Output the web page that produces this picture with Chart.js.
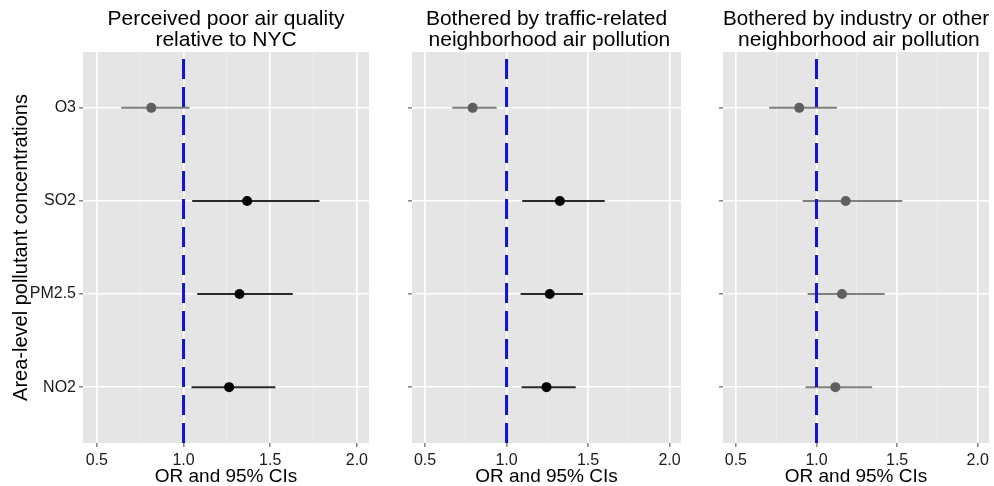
<!DOCTYPE html>
<html lang="en">
<head>
<meta charset="UTF-8" />
<title>Area-level pollutants and perceived air pollution</title>
<script src="https://cdn.jsdelivr.net/npm/chart.js"></script>
<style>
  body { margin: 0; background: #fff; width: 994px; height: 486px; position: relative; overflow: hidden; }
  .panel { position: absolute; top: 0; height: 486px; }
</style>
</head>
<body>
<div class="panel" style="left:0;width:374px"><canvas id="airChart"></canvas></div>
<div class="panel" style="left:378px;width:308px"><canvas id="trafficChart"></canvas></div>
<div class="panel" style="left:690px;width:304px"><canvas id="industryChart"></canvas></div>

<script>
// rows from bottom to top
const pollutants = ['NO2', 'PM2.5', 'SO2', 'O3'];
const xTicks = [0.5, 0.75, 1.0, 1.25, 1.5, 1.75, 2.0];

// Perceived poor air quality relative to NYC
const airOR = [1.263, 1.323, 1.367, 0.814];
const airLo = [1.046, 1.079, 1.050, 0.640];
const airHi = [1.530, 1.630, 1.784, 1.035];
const airDark = [true, true, true, false];

// Bothered by traffic-related neighborhood air pollution
const trafficOR = [1.245, 1.265, 1.327, 0.792];
const trafficLo = [1.092, 1.086, 1.096, 0.667];
const trafficHi = [1.424, 1.469, 1.602, 0.939];
const trafficDark = [true, true, true, false];

// Bothered by industry or other neighborhood air pollution
const industryOR = [1.117, 1.158, 1.181, 0.893];
const industryLo = [0.932, 0.945, 0.914, 0.706];
const industryHi = [1.345, 1.423, 1.532, 1.127];
const industryDark = [false, false, false, false];

Chart.defaults.font.family = "'Liberation Sans', Arial, sans-serif";

const panelBg = {
  id: 'panelBg',
  beforeDraw(chart) {
    const a = chart.chartArea;
    chart.ctx.save();
    chart.ctx.fillStyle = '#e5e5e5';
    chart.ctx.fillRect(a.left, a.top, a.right - a.left, a.bottom - a.top);
    chart.ctx.restore();
  }
};

const isMajor = v => Math.abs(v * 2 - Math.round(v * 2)) < 1e-6;

function forestPlot(id, title, or, lo, hi, dark, opts) {
  const datasets = [];
  // confidence intervals
  pollutants.forEach((p, i) => {
    datasets.push({
      data: [{ x: lo[i], y: i + 1 }, { x: hi[i], y: i + 1 }],
      showLine: true,
      borderColor: dark[i] ? '#2a2a2a' : '#7f7f7f',
      borderWidth: 2,
      pointRadius: 0,
      order: 2
    });
  });
  // reference line at OR = 1
  datasets.push({
    data: [{ x: 1, y: 0.4 }, { x: 1, y: 4.6 }],
    showLine: true,
    borderColor: '#1414cc',
    borderWidth: 3,
    borderDash: [20, 8],
    pointRadius: 0,
    order: 1
  });
  // point estimates
  datasets.push({
    data: or.map((v, i) => ({ x: v, y: i + 1 })),
    pointRadius: 5,
    pointBorderWidth: 0,
    pointBackgroundColor: dark.map(d => d ? '#000000' : '#5f5f5f'),
    order: 0
  });

  return new Chart(document.getElementById(id), {
    type: 'scatter',
    data: { datasets },
    plugins: [panelBg],
    options: {
      responsive: true,
      maintainAspectRatio: false,
      animation: false,
      layout: { padding: { right: opts.padRight, left: 0, top: 0, bottom: 0 } },
      plugins: {
        legend: { display: false },
        tooltip: { enabled: false },
        title: {
          display: true,
          text: title,
          fullSize: false,
          color: '#000',
          font: { size: 21, weight: 'normal', lineHeight: 1.0 },
          padding: { top: 9, bottom: 1 }
        }
      },
      scales: {
        x: {
          type: 'linear',
          min: 0.42,
          max: 2.07,
          bounds: 'data',
          afterBuildTicks: s => { s.ticks = xTicks.map(v => ({ value: v })); },
          afterFit: s => { s.height = 43; },
          border: { display: false },
          grid: {
            color: c => isMajor(c.tick.value) ? '#ffffff' : '#f0f0f0',
            lineWidth: c => isMajor(c.tick.value) ? 1.6 : 0.8,
            tickColor: c => isMajor(c.tick.value) ? '#8a8a8a' : 'rgba(0,0,0,0)',
            tickLength: 4
          },
          ticks: {
            autoSkip: false,
            maxRotation: 0,
            padding: 4,
            color: '#1a1a1a',
            font: { size: 16 },
            callback: v => isMajor(v) ? v.toFixed(1) : ''
          },
          title: {
            display: true,
            text: 'OR and 95% CIs',
            color: '#000',
            font: { size: 19, lineHeight: 1.0 },
            padding: { top: 0, bottom: 0 }
          }
        },
        y: {
          type: 'linear',
          min: 0.4,
          max: 4.6,
          bounds: 'data',
          afterBuildTicks: s => { s.ticks = pollutants.map((p, i) => ({ value: i + 1 })); },
          afterFit: s => { s.width = opts.yWidth; },
          border: { display: false },
          grid: { color: '#ffffff', lineWidth: 1.6, tickColor: '#8a8a8a', tickLength: 4 },
          ticks: {
            autoSkip: false,
            padding: 3,
            color: '#1a1a1a',
            font: { size: 16 },
            callback: v => opts.showLabels ? pollutants[Math.round(v) - 1] : ''
          },
          title: {
            display: opts.showLabels,
            text: 'Area-level pollutant concentrations',
            color: '#000',
            font: { size: 20 },
            padding: { top: 9, bottom: 0 }
          }
        }
      }
    }
  });
}

forestPlot('airChart', ['Perceived poor air quality', 'relative to NYC'],
  airOR, airLo, airHi, airDark, { yWidth: 83, padRight: 5, showLabels: true });
forestPlot('trafficChart', ['Bothered by traffic-related', ' neighborhood air pollution'],
  trafficOR, trafficLo, trafficHi, trafficDark, { yWidth: 34, padRight: 5, showLabels: false });
forestPlot('industryChart', ['Bothered by industry or other', ' neighborhood air pollution'],
  industryOR, industryLo, industryHi, industryDark, { yWidth: 33, padRight: 1, showLabels: false });
</script>
</body>
</html>
